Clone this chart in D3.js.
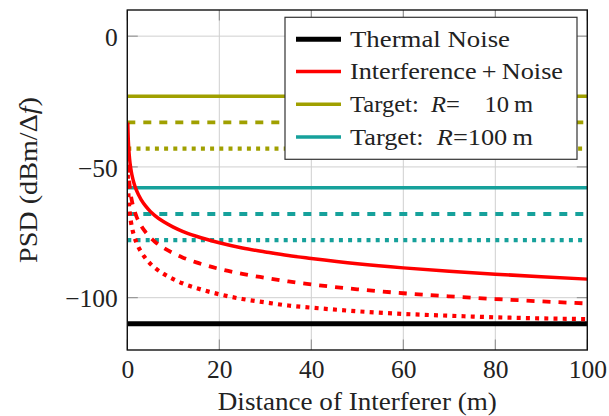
<!DOCTYPE html>
<html>
<head>
<meta charset="utf-8">
<script src="https://cdn.jsdelivr.net/npm/d3@7/dist/d3.min.js"></script>
<style>
  html, body { margin: 0; padding: 0; background: #fff; }
  svg { display: block; }
</style>
</head>
<body>
<svg id="chart" width="609" height="416"></svg>
<script>
// ---- data ----
const distances = [0.1, 0.2, 0.3, 0.5, 0.75, 1, 1.5, 2, 3, 4, 5, 6, 8, 10, 12, 15, 20, 25, 30, 35, 40, 50, 60, 70, 80, 90, 100];
const interfHigh = [-33, -39, -42.5, -47, -50.5, -53, -56.5, -59, -62.5, -65, -67, -68.6, -71.1, -73, -74.6, -76.5, -79, -81, -82.5, -83.9, -85, -87, -88.6, -89.9, -91, -92, -92.9];
const interfMid  = [-43, -49, -52.5, -57, -60.5, -63, -66.5, -69, -72.5, -75, -77, -78.6, -81.1, -83, -84.6, -86.5, -89, -90.9, -92.4, -93.8, -94.9, -96.8, -98.3, -99.5, -100.5, -101.4, -102.2];
const interfLow  = [-53, -59, -62.5, -67, -70.5, -73, -76.5, -79, -82.5, -85, -87, -88.6, -91, -92.9, -94.5, -96.3, -98.7, -100.5, -101.8, -103, -103.8, -105.2, -106.2, -106.9, -107.5, -107.9, -108.2];
const thermalNoise = -110;
const targetR10  = [-23, -33, -43];
const targetR100 = [-58, -68, -78];
const xTicks = [0, 20, 40, 60, 80, 100];
const yTicks = [-100, -50, 0];
const xDomain = [0, 100];
const yDomain = [-120, 10];
const legendLabels = ["Thermal Noise", "Interference + Noise", "Target: R= 10 m", "Target: R=100 m"];

// ---- layout ----
const FONT = '"Liberation Serif", "Times New Roman", Times, serif';
const svg = d3.select("#chart");
const L = 127.3, R = 587.3, T = 10, B = 350;
const x = d3.scaleLinear().domain(xDomain).range([L, R]);
const y = d3.scaleLinear().domain(yDomain).range([B, T]);

const styles = ["none", "8,8", "4,5.2"];
const widths = [3.5, 3.8, 4.2];
const olive = "#a0a000", teal = "#16a19b", red = "#ff0000";

svg.append("defs").append("clipPath").attr("id", "clip")
  .append("rect").attr("x", L).attr("y", T).attr("width", R - L).attr("height", B - T);

// grid
const grid = svg.append("g");
grid.selectAll(".gx").data(xTicks).join("line")
  .attr("x1", d => x(d)).attr("x2", d => x(d)).attr("y1", T).attr("y2", B)
  .attr("stroke", "#cfcfcf").attr("stroke-width", 1);
grid.selectAll(".gy").data(yTicks).join("line")
  .attr("y1", d => y(d)).attr("y2", d => y(d)).attr("x1", L).attr("x2", R)
  .attr("stroke", "#cfcfcf").attr("stroke-width", 1);

// inward ticks on all sides
const tickLen = 10.5, tickCol = "#8a8a8a";
const tk = svg.append("g").attr("stroke", tickCol).attr("stroke-width", 1);
xTicks.forEach(d => {
  tk.append("line").attr("x1", x(d)).attr("x2", x(d)).attr("y1", B).attr("y2", B - tickLen);
  tk.append("line").attr("x1", x(d)).attr("x2", x(d)).attr("y1", T).attr("y2", T + tickLen);
});
yTicks.forEach(d => {
  tk.append("line").attr("y1", y(d)).attr("y2", y(d)).attr("x1", L).attr("x2", L + tickLen);
  tk.append("line").attr("y1", y(d)).attr("y2", y(d)).attr("x1", R).attr("x2", R - tickLen);
});

const plot = svg.append("g").attr("clip-path", "url(#clip)");

// target lines
targetR10.forEach((v, i) => {
  plot.append("line").attr("x1", x(xDomain[0])).attr("x2", x(xDomain[1]))
    .attr("y1", y(v)).attr("y2", y(v))
    .attr("stroke", olive).attr("stroke-width", widths[i]).attr("stroke-dasharray", styles[i]);
});
targetR100.forEach((v, i) => {
  plot.append("line").attr("x1", x(xDomain[0])).attr("x2", x(xDomain[1]))
    .attr("y1", y(v)).attr("y2", y(v))
    .attr("stroke", teal).attr("stroke-width", widths[i]).attr("stroke-dasharray", styles[i]);
});

// thermal noise
plot.append("line").attr("x1", x(xDomain[0])).attr("x2", x(xDomain[1]))
  .attr("y1", y(thermalNoise)).attr("y2", y(thermalNoise))
  .attr("stroke", "#000").attr("stroke-width", 5);

// interference curves
const line = d3.line().x(d => x(d[0])).y(d => y(d[1])).curve(d3.curveMonotoneX);
[interfHigh, interfMid, interfLow].forEach((vals, i) => {
  plot.append("path")
    .datum(distances.map((d, j) => [d, vals[j]]))
    .attr("d", line).attr("fill", "none")
    .attr("stroke", red).attr("stroke-width", widths[i])
    .attr("stroke-dasharray", styles[i]);
});

// frame
svg.append("rect").attr("x", L).attr("y", T).attr("width", R - L).attr("height", B - T)
  .attr("fill", "none").attr("stroke", "#111").attr("stroke-width", 1.4);

// axes labels via d3 axes
const fmt = d => d < 0 ? "\u2212" + Math.abs(d) : String(d);
const xAxis = svg.append("g").attr("transform", `translate(0,${B})`)
  .call(d3.axisBottom(x).tickValues(xTicks).tickSize(0).tickPadding(0).tickFormat(fmt));
xAxis.select(".domain").remove();
xAxis.selectAll("text").attr("dy", null).attr("y", 28)
  .style("font-family", FONT).style("font-size", "25.5px").attr("fill", "#222");

const yAxis = svg.append("g").attr("transform", `translate(${L},0)`)
  .call(d3.axisLeft(y).tickValues(yTicks).tickSize(0).tickPadding(0).tickFormat(fmt));
yAxis.select(".domain").remove();
yAxis.selectAll("text").attr("x", -9.5).attr("dy", "0.36em")
  .style("font-family", FONT).style("font-size", "25.5px").attr("fill", "#222");

// axis titles
svg.append("text").attr("x", (L + R) / 2).attr("y", 410).attr("text-anchor", "middle")
  .style("font-family", FONT).style("font-size", "25px").attr("fill", "#222")
  .attr("textLength", 279).attr("lengthAdjust", "spacingAndGlyphs")
  .text("Distance of Interferer (m)");

const yl = svg.append("text").attr("transform", `translate(37,${(T + B) / 2}) rotate(-90)`)
  .attr("text-anchor", "middle")
  .style("font-family", FONT).style("font-size", "25px").attr("fill", "#222")
  .attr("textLength", 166).attr("lengthAdjust", "spacingAndGlyphs");
yl.append("tspan").text("PSD (dBm/\u0394");
yl.append("tspan").attr("font-style", "italic").text("f");
yl.append("tspan").text(")");

// legend
const lg = svg.append("g");
lg.append("rect").attr("x", 285).attr("y", 17.3).attr("width", 292).attr("height", 142)
  .attr("fill", "#fff").attr("stroke", "#333").attr("stroke-width", 1.2);
const legendRows = [
  { color: "#000", w: 5, label: legendLabels[0], len: 160 },
  { color: red, w: 3.5, label: legendLabels[1], len: 213 },
  { color: olive, w: 3.5, label: legendLabels[2], len: 183 },
  { color: teal, w: 3.5, label: legendLabels[3], len: 183 }
];
const rowY = [39.3, 71.6, 104.3, 137];
legendRows.forEach((r, i) => {
  lg.append("line").attr("x1", 296).attr("x2", 341).attr("y1", rowY[i]).attr("y2", rowY[i])
    .attr("stroke", r.color).attr("stroke-width", r.w);
  const t = lg.append("text").attr("x", 350).attr("y", rowY[i] + 7.7)
    .style("font-family", FONT).style("font-size", "24px").attr("fill", "#222")
    .attr("textLength", r.len).attr("lengthAdjust", "spacingAndGlyphs");
  if (i >= 2) {
    const parts = r.label.split("R");
    t.append("tspan").text(parts[0] + "\u00a0");
    t.append("tspan").attr("font-style", "italic").text("R");
    t.append("tspan").text(parts[1].replace("= ", "=\u2007\u2007").replace(" m", "\u2009m"));
  } else {
    t.text(r.label.replace(" + ", "\u2009+\u2009"));
  }
});
</script>
</body>
</html>
